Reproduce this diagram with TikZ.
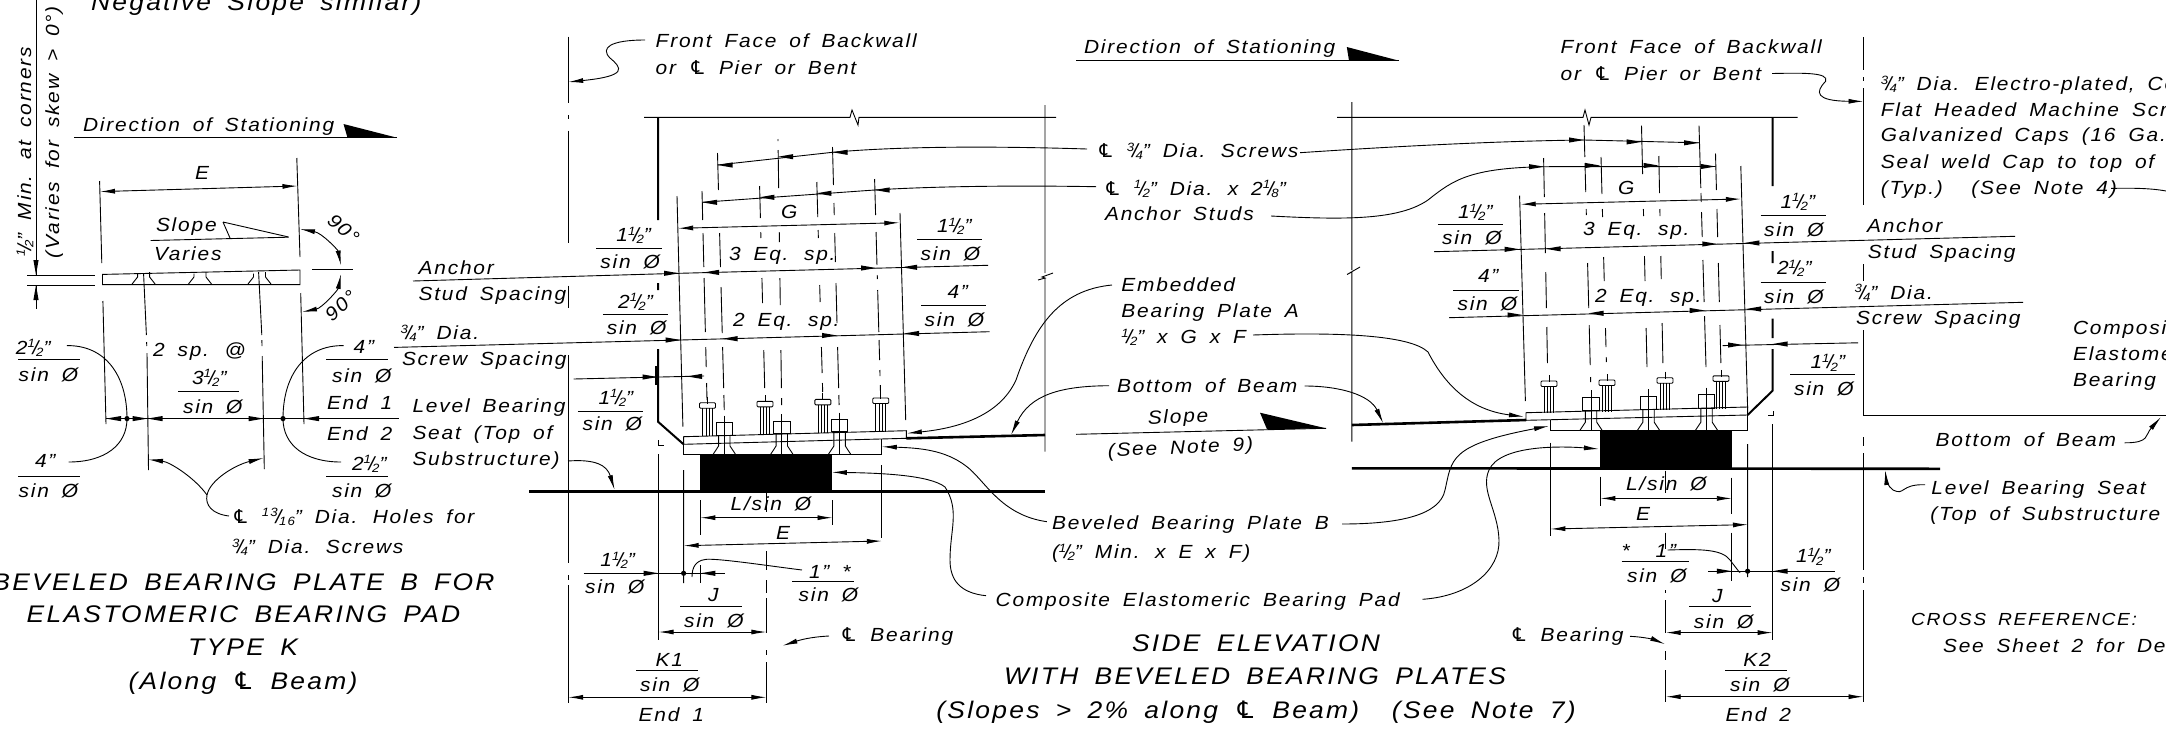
\documentclass[tikz,border=0pt]{standalone}
\usepackage{fontspec}
\setmainfont{Liberation Sans}[FakeStretch=1.1,LetterSpace=9.5,WordSpace=1.7,Ligatures=NoCommon]
\newfontfamily\clfont{DejaVu Sans}
\usetikzlibrary{arrows.meta}
\newcount\tc
\tikzset{
  lbl/.style={anchor=base west,inner sep=0pt,outer sep=0pt,font=\fontsize{19}{19}\selectfont\itshape},
  ttl/.style={anchor=base,inner sep=0pt,outer sep=0pt,font=\fontsize{24}{24}\selectfont\itshape},
  thinl/.style={line width=0.9pt},
  thickl/.style={line width=2.6pt},
  wall/.style={line width=2pt},
  lead/.style={line width=0.9pt,-{Latex[length=15pt,width=5pt]}},
  lead2/.style={line width=0.9pt,{Latex[length=15pt,width=5pt]}-{Latex[length=15pt,width=5pt]}},
  plain/.style={line width=0.9pt}
}
\newcommand\T[4][]{\global\advance\tc by 1 \node[lbl,#1] (t\the\tc) at (#2,#3) {#4};}
\newcommand\TT[3]{\global\advance\tc by 1 \node[ttl] (t\the\tc) at (#1,#2) {#3};}
\newcommand\fr[2]{\raisebox{.32em}{\fontsize{12}{12}\selectfont #1}\kern-.12em/\kern-.12em\raisebox{-.12em}{\fontsize{12}{12}\selectfont #2}}
\newcommand\CL{{\clfont\itshape\char"2104}}
\newcommand\sinf[8]{\T{#1}{#2}{#3}\draw[thinl] (#4,#6)--(#5,#6);\T{#7}{#8}{sin Ø}}
\newcommand\tipR[2]{\fill (#1,#2) -- ++(-15,2.6) -- ++(0,-5.2) -- cycle;}
\newcommand\tipL[2]{\fill (#1,#2) -- ++(15,2.6) -- ++(0,-5.2) -- cycle;}
\newcommand\slant[5]{\foreach \a/\b in {#5}{%
  \pgfmathsetmacro\xa{#1+(#3-#1)*(\a-#2)/(#4-#2)}%
  \pgfmathsetmacro\xb{#1+(#3-#1)*(\b-#2)/(#4-#2)}%
  \draw[thinl] (\xa,\a)--(\xb,\b);}}
\newcommand\stud[3]{%
  \draw[thinl] (#1-4.8,#2+5.5)--(#1-4.8,#3) (#1+4.8,#2+5.5)--(#1+4.8,#3)
    (#1-1.5,#2+5.5)--(#1-1.5,#3) (#1+1.5,#2+5.5)--(#1+1.5,#3)
    (#1,#2-6)--(#1,#2+1);
  \draw[thinl,rounded corners=1pt] (#1-8,#2) rectangle (#1+8,#2+5.5);}
\newcommand\screw[4]{%
  \draw[thinl] (#1-8.3,#2) rectangle (#1+8.3,#3);
  \draw[thinl] (#1,#2-7)--(#1,#4);
  \draw[thinl] (#1-5.7,#3)--(#1-5.7,#4-8)--(#1-11,#4) (#1+5.7,#3)--(#1+5.7,#4-8)--(#1+11,#4);}
\begin{document}
\begin{tikzpicture}[x=1pt,y=-1pt]
\useasboundingbox (0,0) rectangle (2166,729);
\clip (0,0) rectangle (2166,729);
% ---------- Left detail ----------
\T{91}{10}{\fontsize{24}{24}\selectfont Negative Slope similar)}
\T[rotate=90]{31}{256}{\fr12" Min. at corners}
\T[rotate=90]{59}{258}{(Varies for skew > 0°)}
\draw[thinl] (36,0)--(36,275) (36,285)--(36,309);
\fill (36,275) -- ++(-2.6,-15) -- ++(5.2,0) -- cycle;
\fill (36,285) -- ++(-2.6,15) -- ++(5.2,0) -- cycle;
\draw[thinl] (27,275)--(95,275) (27,285)--(95,285);
\T{83}{131}{Direction of Stationing}
\draw[thinl] (74,137.7)--(397,137.7);
\fill (343.5,124)--(397,137.7)--(347.5,137.7)--cycle;
% plate
\draw[thinl] (99.6,181)--(101.8,263) (102.9,301)--(106,424)
             (296.8,158)--(300,257) (300.7,293)--(304,424);
\draw[lead2] (100,191.6)--(297.5,186);
\T{195}{179}{E}
\T{156}{231.6}{Slope}
\draw[thinl] (150.7,240.5)--(288.6,237.2);
\draw[thinl] (223,222)--(288.6,237)  (223,222)--(230,238);
\T{154}{260}{Varies}
\draw[thinl] (102.5,274.4)--(300,270)--(300,284.6)--(102.5,284.6)--cycle;
\foreach \c in {143.6,200,259.5}{
  \draw[thinl] (\c-11.5,284)--(\c-6,277)--(\c-6,273.5) (\c+11.5,284)--(\c+6,277)--(\c+6,272);}
\draw[thinl] (143.6,274)--(146.4,335) (146.6,342)--(146.8,346) (147,353)--(148.5,470);
\draw[thinl] (258.6,272)--(261.8,335) (261.9,340)--(262,346) (262.2,356)--(264.3,469);
\draw[lead2] (300,229) .. controls (322,233) and (338,250) .. (341,265.5);
\draw[lead2] (302,312) .. controls (322,308) and (338,290) .. (341,274);
\draw[thinl] (312,269.3)--(352.5,269.3);
\T[rotate=-42]{326}{222}{90°}
\T[rotate=42]{332}{322}{90°}
\draw[thinl] (106,418.6)--(399,418.6);
\tipL{106}{418.6}\tipR{147.5}{418.6}\tipL{147.5}{418.6}\tipR{263.6}{418.6}\tipL{304}{418.6}
\fill (127,418.6) circle (2.6) (283,418.6) circle (2.6);
\sinf{16}{354}{2\fr12"}{18}{80}{359.5}{18.6}{381}
\draw[thinl] (66.8,345.6) .. controls (105,345) and (127,375) .. (127,418.6) .. controls (127,445) and (105,462) .. (68.6,462);
\sinf{35}{467}{4"}{18}{80}{476}{18.6}{497.7}
\sinf{353.6}{353}{4"}{326}{388}{359.5}{332}{382}
\draw[thinl] (343.6,345.6) .. controls (305,345) and (283,375) .. (283,418.6) .. controls (283,445) and (305,462) .. (341,462);
\sinf{352}{470}{2\fr12"}{326}{388}{476}{332}{497.7}
\T{327}{409}{End 1}
\T{327}{440}{End 2}
\T{153}{356}{2 sp. @}
\sinf{192}{384}{3\fr12"}{178}{239}{391.6}{183}{413}
\draw[lead] (229,516) .. controls (212,514) and (205,505) .. (207,495) .. controls (195,478) and (170,462) .. (148,459.5);
\draw[lead] (207,495) .. controls (210,480) and (235,465) .. (263.6,458);
\T{232}{523}{\CL\ \fr{13}{16}" Dia. Holes for}
\T{232}{553.5}{\fr34" Dia. Screws}
\TT{243.5}{590}{BEVELED BEARING PLATE B FOR}
\TT{243.5}{622}{ELASTOMERIC BEARING PAD}
\TT{243}{655}{TYPE K}
\TT{243}{689}{(Along \CL\ Beam)}
% side labels
\T{418.6}{274}{Anchor}
\T{418.6}{300}{Stud Spacing}
\T{400.7}{339.5}{\fr34" Dia.}
\T{402}{365}{Screw Spacing}
\T{412.5}{412.5}{Level Bearing}
\T{412.5}{439.5}{Seat (Top of}
\T{412.5}{465}{Substructure)}
\draw[lead] (568,461) .. controls (595,459) and (607,465) .. (614.6,490);
% ---------- Middle elevation ----------
\draw[thinl] (568.2,36.7)--(568.2,103) (568.2,115)--(568.2,119) (568.2,130.7)--(568.2,243) (568.2,285.7)--(568.2,308) (568.2,355)--(568.2,563) (568.2,575)--(568.2,580) (568.2,585)--(568.2,703);
\draw[lead] (645,40) .. controls (610,40) and (600,48) .. (610,58) .. controls (622,68) and (628,76) .. (568.2,82);
\T{655.7}{47.7}{Front Face of Backwall}
\T{655.7}{74}{or \CL\ Pier or Bent}
\draw[thinl] (644,117.3)--(850,117.3)--(852,110)--(858,125)--(859,117.3)--(1056,117.3);
\draw[wall] (658,117)--(658,220) (658,283)--(658,290) (658,349)--(658,421.7)--(683.6,444.3);
\draw[thinl] (658.6,454)--(658.6,640);
\draw[thinl] (658.6,440)--(658.6,445)--(664,445);
% extension lines
\draw[thinl] (677,196)--(682.9,426.7) (683.6,470)--(683.6,583);
\draw[thinl] (900,213)--(905.7,420);
\slant{702}{191}{707}{400}{191/220,233/267,278/332,347/367,383/400}
\slant{759.6}{186}{765}{400}{186/218,232/238,278/303,350/388}
\slant{816.8}{182}{822.9}{400}{182/217,230/238,285/302,347/373,383/392}
\slant{874.6}{179}{880.7}{400}{179/215,232/265,275/279,290/332,340/360,370/376,385/392}
\slant{717.5}{153}{724}{400}{153/190,233/267,287/333,347/388,395/410}
\slant{778}{139}{782}{430}{139/141,150/188,232/242,278/305,350/388,398/405}
\slant{832.5}{147}{839.6}{425}{147/185,203/215,233/262,283/323,347/388,395/405}
% dims
\draw[thinl] (717.5,165)--(832.5,152.3) .. controls (880,148) and (960,145) .. (1087,149);
\tipL{717.5}{165}\tipL{778.2}{156.7}\tipL{832.5}{152.3}
\draw[thinl] (702,202.3)--(874.6,190) .. controls (920,187) and (1000,185) .. (1096,186.7);
\tipL{702}{202.3}\tipL{759.3}{197.3}\tipL{816.4}{193.3}\tipL{874.6}{190}
\draw[lead2] (678.2,228.3)--(899.3,222.7);
\T{781}{218}{G}
\T{729}{260}{3 Eq. sp.}
\T{733}{326.7}{2 Eq. sp.}
\draw[thinl] (413,281)--(679,273.3)--(988,265.3);
\tipR{679}{273.3}\tipL{704}{272.4}\tipR{876}{268}\tipL{902}{267.3}
\draw[thinl] (394,347.4)--(680.7,340)--(989.6,331.7);
\tipR{680.7}{340}\tipL{722.5}{338.7}\tipR{837}{335.5}\tipL{904}{333.5}
\sinf{616.4}{241.7}{1\fr12"}{596}{661.8}{248.3}{600.4}{268.3}
\sinf{937}{232.7}{1\fr12"}{917}{982}{239.7}{920.7}{260}
\sinf{618.2}{308}{2\fr12"}{602.9}{667.5}{314.3}{606.8}{334.3}
\sinf{947.5}{298.3}{4"}{921}{986}{305.7}{924.6}{326}
\sinf{598.6}{404}{1\fr12"}{577.9}{643}{411}{582.5}{430}
\draw[thinl] (573.6,379)--(704,376);
\tipR{657.5}{377}\tipL{687}{376.4}
\draw[wall] (656,366)--(656,385);
% bearing assembly
\fill (700.4,454) rectangle (831.8,491.7);
\draw[thickl] (529,491.7)--(1045,491.7);
\draw[thickl] (906.4,438.3)--(1045,435);
\draw[thinl] (683.6,436.7)--(906.4,430.7)--(906.4,438.3)--(683.6,444.3)--cycle;
\draw[thinl] (683.6,444.3)--(683.6,454)--(881.8,454)--(881.8,439);
\stud{707.5}{402.7}{436}\stud{765}{401.3}{434.5}\stud{822.9}{399.3}{433}\stud{880.7}{398}{431.5}
\screw{724.3}{422.7}{435}{454}\screw{781.8}{421.3}{433.3}{454}\screw{839.6}{419.7}{431.7}{454}
\draw[thinl] (1045,105)--(1045,273) (1053,273)--(1042,277)--(1045,278)--(1038,280) (1045,278)--(1045,451.7);
\draw[lead] (1112,285) .. controls (1060,290) and (1035,325) .. (1016,380) .. controls (1000,415) and (960,428) .. (906.8,433.3);
\draw[lead] (1109,385.7) .. controls (1060,386) and (1030,395) .. (1011,435);
\draw[lead] (1046.8,521.7) .. controls (1000,515) and (985,480) .. (966,466) .. controls (945,450) and (920,448) .. (881.8,446.7);
\draw[lead] (986,595.7) .. controls (960,593) and (950,580) .. (950,560) .. controls (950,530) and (960,510) .. (945,487) .. controls (930,475) and (880,473) .. (831.8,472.3);
% lower dims
\draw[thinl] (700.4,500)--(700.4,535) (832.5,500)--(832.5,525) (881.8,465)--(881.8,537.7);
\draw[thinl] (766.4,493)--(766.4,511.7) (766.4,551)--(766.4,570) (766.4,580)--(766.4,593) (766.4,598)--(766.4,633) (766.4,650)--(766.4,655) (766.4,662)--(766.4,703);
\T{730.7}{510.7}{L/sin Ø}
\draw[lead2] (700.4,517.7)--(832.5,517.7);
\T{776}{539.3}{E}
\draw[lead2] (683.6,545.7)--(881.8,541);
\T{600.4}{566.7}{1\fr12"}
\draw[thinl] (583.6,573.3)--(724.6,573.3);
\T{585}{593.3}{sin Ø}
\tipR{658.6}{573.3}\tipL{700.4}{573.3}
\fill (683.6,573.3) circle (2.6);
\draw[thinl] (700.4,565)--(700.4,583);
\draw[thinl] (802,570) .. controls (770,566) and (730,560) .. (712,559.3) .. controls (695,558) and (692,568) .. (692,577);
\sinf{809}{578}{1" *}{792}{854}{581.7}{798.6}{601.7}
\sinf{708}{601.7}{J}{680}{742}{606}{684}{627.7}
\draw[lead2] (658.6,632)--(766.4,632);
\T{840.4}{641.7}{\CL\ Bearing}
\draw[lead] (829,636) .. controls (810,637) and (800,640) .. (782.5,645.7);
\sinf{655.7}{666.7}{K1}{636}{698}{670}{640}{691}
\draw[lead2] (568.2,697.3)--(766.4,697.3);
\T{638.6}{721.7}{End 1}
% ---------- central labels ----------
\T{1084}{53.3}{Direction of Stationing}
\draw[thinl] (1076,60.7)--(1399,60.7);
\fill (1346.8,47)--(1399,60.7)--(1349,60.7)--cycle;
\T{1097}{157.7}{\CL\ \fr34" Dia. Screws}
\T{1104}{195}{\CL\ \fr12" Dia. x 2\fr18"}
\T{1105}{220.7}{Anchor Studs}
\T{1121.4}{291.7}{Embedded}
\T{1121.4}{317.3}{Bearing Plate A}
\T{1121.4}{343.3}{\fr12" x G x F}
\T{1117}{392.7}{Bottom of Beam}
\T[rotate=2.5]{1148}{424.3}{Slope}
\draw[thinl] (1076,434.3)--(1326,428.3);
\fill (1260,412.7)--(1326,428.3)--(1267,429.3)--cycle;
\T[rotate=2.5]{1108}{457}{(See Note 9)}
\T{1052}{529.3}{Beveled Bearing Plate B}
\T{1052}{558.3}{(\fr12" Min. x E x F)}
\T{995.7}{606}{Composite Elastomeric Bearing Pad}
\TT{1256}{651.7}{SIDE ELEVATION}
\TT{1255}{684}{WITH BEVELED BEARING PLATES}
\TT{1256}{718}{(Slopes > 2\% along \CL\ Beam)\ \ (See Note 7)}
% ---------- Right elevation ----------
\draw[thinl] (1351.8,102)--(1351.8,270) (1360,267)--(1347,274.5)--(1351.8,272) (1351.8,272)--(1351.8,441.7);
\draw[thinl] (1337,117.4)--(1583,117.4)--(1585,110)--(1589,125)--(1591,117.4)--(1797.5,117.4);
\draw[wall] (1772.6,117.7)--(1772.6,186) (1772.6,251)--(1772.6,263) (1772.6,318.6)--(1772.6,338) (1772.6,349)--(1772.6,390.7)--(1747.6,415);
\draw[thickl] (1351.8,425)--(1526,420);
\draw[thickl] (1351.8,468.3)--(1940,468.8);
\fill (1600.4,430.2) rectangle (1731.8,468.5);
\draw[thinl] (1526,412.7)--(1747.6,407)--(1747.6,415)--(1526,420.3)--cycle;
\draw[thinl] (1550.4,420)--(1550.4,430.2)--(1747.6,430.2)--(1747.6,415);
\slant{1543.6}{158}{1547.5}{365}{158/197,213/253,272/308,327/363}
\slant{1584}{125}{1591}{395}{125/157,163/192,209/215,263/308,325/365,377/382}
\slant{1601}{157}{1606.4}{363}{157/194,209/217,257/281,328/347,357/362}
\slant{1641.5}{125.6}{1647}{367}{125.6/174,209/216,256/281,328/367}
\slant{1658.8}{155.8}{1663}{367}{156/193,209/216,256/279,323/363}
\slant{1699}{125.6}{1706}{367}{125.6/188,193/202,212/237,260/302,316/367}
\slant{1715.5}{153.5}{1721}{367}{153.5/190,209/237,263/302,325/363}
\draw[thinl] (1519.6,195.7)--(1525.4,401);
\draw[thinl] (1740.8,166)--(1747.6,408) (1747.6,444)--(1747.6,577);
\stud{1549}{381}{413}\stud{1607}{380}{411.5}\stud{1665}{377.7}{410}\stud{1721}{375.8}{408.5}
\screw{1591}{397}{410}{430.2}\screw{1648.5}{396}{409}{430.2}\screw{1706.5}{394.5}{408}{430.2}
% right dims
\draw[thinl] (1300,152.7) .. controls (1400,146) and (1500,141) .. (1584,140)--(1699,142.8);
\tipR{1584}{140}\tipR{1641.5}{141.9}\tipR{1699}{142.8}
\draw[thinl] (1271,216) .. controls (1346,220) and (1399,220) .. (1428,200) .. controls (1453,180) and (1470,168) .. (1544,166.7)--(1715.5,166.5);
\tipR{1544}{166.7}\tipR{1600}{165.5}\tipR{1658.5}{165.5}\tipR{1715.5}{166.5}
\draw[lead2] (1520.7,204.3)--(1740.8,199);
\T{1618}{194}{G}
\T{1583}{235.7}{3 Eq. sp.}
\T{1595}{302}{2 Eq. sp.}
\draw[thinl] (1434,251.7)--(2015,236.3);
\tipR{1519.6}{249.3}\tipL{1545.7}{248.8}\tipR{1717.3}{244}\tipL{1744.4}{243}
\draw[thinl] (1449,317.7)--(2023,302.3);
\tipR{1522.5}{315}\tipL{1588.6}{313.3}\tipR{1704.7}{310.5}\tipL{1746}{309}
\sinf{1458}{218.3}{1\fr12"}{1437.9}{1503}{224}{1442}{244.3}
\sinf{1478}{282.7}{4"}{1453}{1518.6}{290}{1457.5}{310.7}
\sinf{1780.5}{208}{1\fr12"}{1760.6}{1825.6}{215.8}{1764}{236}
\sinf{1777}{274.4}{2\fr12"}{1760.6}{1825.6}{282.3}{1764}{303.3}
\sinf{1810.5}{368.8}{1\fr12"}{1790}{1855}{374.4}{1794}{395.3}
\draw[thinl] (1722.7,345.6)--(1858,342.8);
\tipR{1743}{345}\tipL{1772.6}{344}
\draw[lead] (1253,335) .. controls (1340,332) and (1410,335) .. (1428,352) .. controls (1445,385) and (1470,410) .. (1524,416.7);
\draw[lead] (1304.6,386) .. controls (1340,386) and (1370,395) .. (1383.2,423.3);
\draw[lead] (1342,524) .. controls (1400,524) and (1440,515) .. (1445,490) .. controls (1452,460) and (1448,445) .. (1549,426);
\draw[lead] (1422.5,599.3) .. controls (1470,596) and (1500,570) .. (1499,540) .. controls (1498,510) and (1480,490) .. (1489,470) .. controls (1500,445) and (1560,446) .. (1599,449);
\draw[thinl] (1772.6,424)--(1772.6,639.5) (1768,415)--(1773,415)--(1773,411);
\draw[thinl] (1665.7,470.7)--(1665.7,493) (1665.7,532.6)--(1665.7,549) (1665.7,590)--(1665.7,593) (1665.7,600)--(1665.7,632.6) (1665.7,651)--(1665.7,660) (1665.7,670)--(1665.7,702);
\T{1626}{490.7}{L/sin Ø}
\draw[lead2] (1600.4,498.4)--(1731.8,498.4);
\draw[thinl] (1600.4,476.7)--(1600.4,505.7) (1731.8,477.7)--(1731.8,514) (1731.8,532.6)--(1731.8,581) (1550.4,442.7)--(1550.4,535.7);
\T{1636}{520}{E}
\draw[lead2] (1550.4,529)--(1748,524.6);
\draw[thinl] (1708,571.2)--(1834.7,571.2);
\tipR{1731.8}{571.2}\tipL{1772.6}{571.2}
\fill (1747.6,571.2) circle (2.6);
\T{1796}{562.8}{1\fr12"}
\T{1780.5}{591.6}{sin Ø}
\sinf{1621.7}{557}{* \ 1"}{1621.7}{1689}{561.9}{1627}{582.3}
\draw[thinl] (1667.5,550) .. controls (1700,549) and (1722,549) .. (1730,560) .. controls (1736,568) and (1741,574) .. (1739,572);
\sinf{1712}{602}{J}{1689}{1750.5}{606.5}{1693.9}{628}
\draw[lead2] (1665.7,632.6)--(1772.6,632.6);
\T{1510.7}{641.7}{\CL\ Bearing}
\draw[lead] (1630,636.3) .. controls (1645,637) and (1655,640) .. (1665,644.2);
\sinf{1743.3}{666.5}{K2}{1725.3}{1787}{670}{1730}{691.6}
\draw[lead2] (1665.7,696.7)--(1863.5,696.7);
\T{1725.6}{721.9}{End 2}
\T{1560.7}{53.3}{Front Face of Backwall}
\T{1560.7}{80}{or \CL\ Pier or Bent}
\draw[lead] (1772,73.5) .. controls (1800,73) and (1830,72) .. (1825.6,81.4) .. controls (1815,92) and (1815,101) .. (1863.5,101.4);
\draw[thinl] (1863.5,37)--(1863.5,70) (1863.5,77)--(1863.5,81) (1863.5,88)--(1863.5,204.6) (1863.5,264)--(1863.5,281) (1863.5,330)--(1863.5,416) (1863.5,437)--(1863.5,446) (1863.5,453)--(1863.5,570) (1863.5,577)--(1863.5,583) (1863.5,590)--(1863.5,702);
\draw[thinl] (1863.5,415.3)--(2166,415.3);
\T{1880.9}{90.7}{\fr34" Dia. Electro-plated, Co}
\T{1880.9}{116.3}{Flat Headed Machine Scre}
\T{1880.9}{141.9}{Galvanized Caps (16 Ga. M}
\T{1880.9}{168.4}{Seal weld Cap to top of P}
\T{1880.9}{194.4}{(Typ.) \ (See Note 4)}
\draw[thinl] (2111,188.4) .. controls (2130,188) and (2150,188) .. (2166,191);
\T{1867}{232.6}{Anchor}
\T{1867.9}{258}{Stud Spacing}
\T{1854.5}{299}{\fr34" Dia.}
\T{1856}{324.6}{Screw Spacing}
\T{2073}{334}{Composit}
\T{2073}{360.5}{Elastome}
\T{2073}{386}{Bearing}
\T{1935.7}{446.5}{Bottom of Beam}
\draw[lead] (2124.5,442.8) .. controls (2150,443) and (2145,435) .. (2161,417);
\T{1931.4}{494.4}{Level Bearing Seat}
\T{1930.3}{520}{(Top of Substructure}
\draw[lead] (1925,484.7) .. controls (1900,484) and (1905,496) .. (1893,490) .. controls (1888,487) and (1886,478) .. (1885.2,470);
\T{1911}{625.6}{\fontsize{17.5}{17.5}\selectfont CROSS REFERENCE:}
\T{1943}{652}{See Sheet 2 for De}
\end{tikzpicture}
\end{document}
